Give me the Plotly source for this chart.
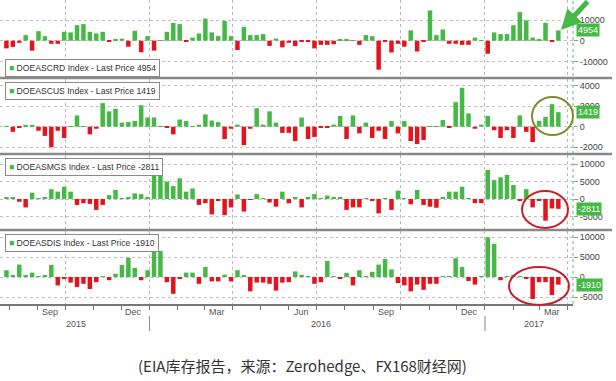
import plotly.graph_objects as go
import pandas as pd

# ---------------- data (thousand barrels, weekly change) ----------------
start_date = "2015-07-29"

crude = [-3700, -3000, -1000, 2700, -4800, 4600, 2200, -1500, -1500, 4300,
         4000, 7500, 8000, 4300, 3500, 4300, -300, 500, 1000, -2900,
         4800, -5600, 2200, -4800, 200, 4300, 8600, 8000, -500, 1500,
         3500, 10700, 4000, 2200, 9600, 2200, -4500, 6700, 2700, 2700,
         3200, -2500, 1000, -3200, -1000, -2600, -500, -500,
         -3700, -2000, -2000, -1700, 500, 500, 300, -2000, 2700, 2200,
         -14000, -300, -5700, -1500, -2900, 5000, -5200, -300, 14600, 2700,
         5400, -1500, -1500, -2000, -2000, 1500, 300, -6300, 4000, 3200,
         3200, 7500, 13800, 9800, 1500, 500, 8600, -200, 4954]

cushing = [50, -500, -50, 130, 100, -400, -900, -2000, -400, -1100,
           50, 1100, 50, -750, -200, 2300, 1500, 1750, 400, 450,
           550, 2100, 900, 900, 30, -50, -750, 700, 550, 30,
           200, 1200, 600, 450, -1200, -200, 200, -1800, -200, 1800,
           200, 1500, 400, -600, -600, -1400, 900, -1200,
           -1000, -100, -100, 200, 1050, -1200, 1100, -650, 400, -1100,
           -400, -1200, 550, -650, 550, -1400, -1700, -1300, 30, 30,
           650, -100, 2400, 3800, 1300, -200, 200, 1050, -350, -1100,
           -350, -1100, 1100, -500, -1500, 570, 960, 2200, 1419]

gasoline = [300, 500, -800, -2400, 1800, 50, 300, 2800, 2100, 3500,
            2100, -1700, -1200, -1400, -3100, -1700, 1100, 2600, 50, 500,
            1600, 1400, 400, 10000, 8000, 5000, 3700, 5900, 2100, 3000,
            -1700, -1200, -4400, -500, -4600, -2400, 1300, -3600, -200, 1400,
            200, -1000, -2200, 2100, -1200, 600, -2400, 500,
            1400, 50, 1000, 500, 300, -3100, -2400, -2400, 50, -300,
            -4100, 100, -3100, 2400, 50, -1500, 2600, -1700, -2200, -2500,
            600, 2100, 2100, 3500, 50, -1200, -1200, 8300, 5400, 6200,
            6900, 4000, -500, 2800, -2400, -300, -6200, -2700, -2811]

distillate = [1700, 300, 3100, 500, 1100, 50, 500, 3000, -2100, -300,
              -1400, -2500, -1700, -3000, -1300, 50, -800, 800, 3000, 4800,
              2300, -800, 1700, 9500, 6500, -1300, -4200, -400, 1100, 1100,
              -1700, 2500, -1100, -1100, 600, -1100, 1700, 400, -3600, -1400,
              -1400, -1700, -3400, -1400, -1300, 1400, 400, 50,
              -1700, -1300, 4000, 50, -500, 1000, -2100, 1700, 50, 1300,
              3100, 4500, 1900, -1500, -2100, -3600, -1900, -3200, -1700, -1700,
              50, 50, 4700, 2500, -1000, -1900, 50, 9900, 8300, -800,
              50, 500, 50, -500, -5500, -1300, -1300, -4500, -1910]

series_names = ["DOEASCRD", "DOEASCUS", "DOEASMGS", "DOEASDIS"]
last_prices = [4954, 1419, -2811, -1910]
ytick_sets = [[-10000, 0, 10000],
              [-2000, 0, 2000, 4000],
              [-5000, 0, 5000, 10000],
              [-5000, 0, 5000, 10000]]

month_label_dates = ["2015-09-15", "2015-12-15", "2016-03-15", "2016-06-15",
                     "2016-09-15", "2016-12-15", "2017-03-15"]
month_labels = ["Sep", "Dec", "Mar", "Jun", "Sep", "Dec", "Mar"]
year_label_dates = ["2015-10-13", "2016-07-06", "2017-02-24"]
year_labels = ["2015", "2016", "2017"]
year_breaks = ["2016-01-01", "2017-01-01"]
caption = "(EIA库存报告，来源：Zerohedge、FX168财经网)"

# ---------------- layout helpers ----------------
W, H = 616, 381
PW, PH = 573, 304          # plot area in pixels (margins l=0, t=0)
GREEN = "#45b845"
RED = "#e3141c"
FONT = "Liberation Sans, Arial, sans-serif"


def px(x):
    return x / PW


def py(y):
    return (PH - y) / PH


panels_px = [(0, 77), (79, 153), (155, 229), (231, 304)]
yranges = [[-17530, 19660], [-2567, 4655], [-8571, 12571], [-6750, 11500]]
legend_centers = [67.5, 90.5, 166.5, 243]

dates = pd.date_range(start_date, periods=len(crude), freq="7D")
all_series = [crude, cushing, gasoline, distillate]

fig = go.Figure()
for i, vals in enumerate(all_series):
    yname = "y" if i == 0 else f"y{i+1}"
    fig.add_trace(go.Bar(
        x=dates, y=vals, xaxis="x", yaxis=yname,
        marker=dict(color=[GREEN if v >= 0 else RED for v in vals],
                    line=dict(width=0)),
        showlegend=False, hoverinfo="x+y"))

layout = dict(
    width=W, height=H,
    margin=dict(l=0, r=W - PW, t=0, b=H - PH, autoexpand=False),
    paper_bgcolor="white", plot_bgcolor="white",
    bargap=0.3,
    font=dict(family=FONT, size=9, color="#444"),
    xaxis=dict(
        domain=[0, 1], anchor="y4", type="date",
        range=["2015-07-22", "2017-04-07"],
        tickmode="linear", tick0="2015-10-01", dtick="M3",
        showticklabels=False, ticks="outside", ticklen=4,
        tickcolor="#777",
        showgrid=True, griddash="dot", gridcolor="#b8b8b8", gridwidth=1,
        showline=True, linecolor="#777", linewidth=1.5,
        minor=dict(tick0="2015-08-01", dtick="M1", ticks="outside",
                   ticklen=4, tickcolor="#777", showgrid=False),
        zeroline=False,
    ),
)

shapes = []
annotations = []
for i in range(4):
    key = "yaxis" if i == 0 else f"yaxis{i+1}"
    top, bot = panels_px[i]
    tv = ytick_sets[i]
    layout[key] = dict(
        domain=[py(bot), py(top)], range=yranges[i], anchor="x",
        side="right", tickmode="array", tickvals=tv,
        ticktext=[str(v) for v in tv],
        ticks="outside", ticklen=4, tickcolor="#66b866",
        tickfont=dict(size=9, color="#444", family=FONT),
        showgrid=True, griddash="dot", gridcolor="#c0c0c0", gridwidth=1,
        zeroline=False, showline=False, fixedrange=True,
    )
    # legend-style box
    annotations.append(dict(
        xref="paper", yref="paper", x=px(5), y=py(legend_centers[i]),
        xanchor="left", yanchor="middle", showarrow=False,
        text=(f'<span style="color:{GREEN}">■</span> '
              f'{series_names[i]} Index - Last Price {last_prices[i]}'),
        font=dict(size=8.6, color="#333", family=FONT),
        bgcolor="white", bordercolor="#8a8a8a", borderwidth=1, borderpad=3,
    ))
    # last price tag on right axis
    annotations.append(dict(
        xref="paper", yref="y" if i == 0 else f"y{i+1}",
        x=1.0, y=last_prices[i], xanchor="left", yanchor="middle",
        xshift=3, showarrow=False, text=str(last_prices[i]),
        font=dict(size=9, color="white", family=FONT),
        bgcolor=GREEN, borderpad=1,
    ))

# panel separators
for ysep in [78, 154, 230]:
    shapes.append(dict(type="line", xref="paper", yref="paper",
                       x0=0, x1=px(612), y0=py(ysep), y1=py(ysep),
                       line=dict(color="#8a8a8a", width=2.5)))

# dotted right axis line
shapes.append(dict(type="line", xref="paper", yref="paper",
                   x0=1, x1=1, y0=0, y1=1,
                   line=dict(color="#66b866", width=1, dash="dot")))

# year dividers under axis
for d in year_breaks:
    shapes.append(dict(type="line", xref="x", yref="paper",
                       x0=d, x1=d, y0=py(316), y1=py(331),
                       line=dict(color="#888", width=1)))

# highlight ellipses
shapes.append(dict(type="circle", xref="paper", yref="paper",
                   x0=px(532), x1=px(573), y0=py(135), y1=py(97),
                   line=dict(color="#7d8c2e", width=2)))
shapes.append(dict(type="circle", xref="paper", yref="paper",
                   x0=px(522), x1=px(568), y0=py(228), y1=py(191),
                   line=dict(color="#c81e28", width=2)))
shapes.append(dict(type="circle", xref="paper", yref="paper",
                   x0=px(509), x1=px(569), y0=py(305), y1=py(267),
                   line=dict(color="#c81e28", width=2)))

# month and year labels
for d, t in zip(month_label_dates, month_labels):
    annotations.append(dict(xref="x", yref="paper", x=d, y=py(312),
                            xanchor="center", yanchor="middle",
                            showarrow=False, text=t,
                            font=dict(size=9, color="#555", family=FONT)))
for d, t in zip(year_label_dates, year_labels):
    annotations.append(dict(xref="x", yref="paper", x=d, y=py(324),
                            xanchor="center", yanchor="middle",
                            showarrow=False, text=t,
                            font=dict(size=9, color="#555", family=FONT)))

# green arrow at top right (pointing down-left)
annotations.append(dict(xref="paper", yref="paper", x=px(561), y=py(30),
                        ax=28, ay=-32, showarrow=True, arrowhead=2,
                        arrowsize=0.8, arrowwidth=5, arrowcolor=GREEN,
                        text=""))

# caption
annotations.append(dict(xref="paper", yref="paper", x=px(302), y=py(365),
                        xanchor="center", yanchor="middle", showarrow=False,
                        text=caption,
                        font=dict(size=15, color="#333",
                                  family="Noto Sans CJK SC, sans-serif")))

layout["shapes"] = shapes
layout["annotations"] = annotations
fig.update_layout(**layout)
fig.write_html(
    "out.html",
    config={"displayModeBar": False},
    post_script="document.body.style.margin='0px';"
                "document.body.style.overflow='hidden';")
